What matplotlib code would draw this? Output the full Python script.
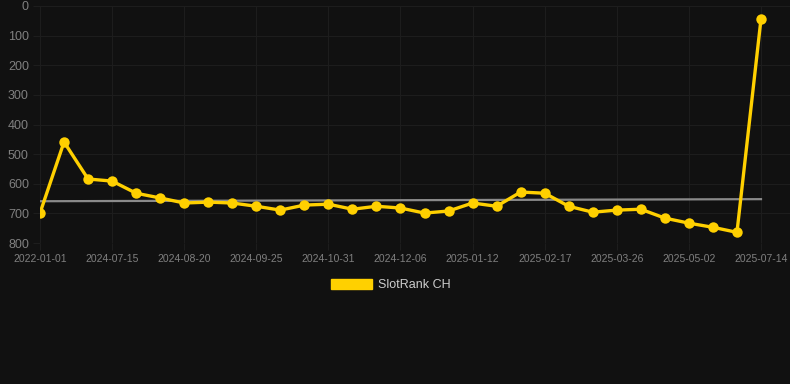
import matplotlib.pyplot as plt
import numpy as np
from matplotlib.patches import Patch

plt.rcParams['font.family'] = ['Liberation Sans', 'DejaVu Sans']

# data
dates = ["2022-01-01", "", "", "2024-07-15", "", "", "2024-08-20", "", "",
         "2024-09-25", "", "", "2024-10-31", "", "", "2024-12-06", "", "",
         "2025-01-12", "", "", "2025-02-17", "", "", "2025-03-26", "", "",
         "2025-05-02", "", "", "2025-07-14"]
rank = [699, 459, 584, 591, 632, 648, 665, 662, 665, 676, 689, 672, 669, 686,
        676, 682, 699, 692, 665, 676, 628, 632, 676, 696, 689, 686, 716, 733,
        747, 764, 44]
trend = [659, 652]

bg = "#111111"
gold = "#ffd000"
grid = "#1d1d1d"

fig = plt.figure(figsize=(7.9, 3.84), dpi=100, facecolor=bg)
ax = fig.add_axes([40 / 790, 141 / 384, 750 / 790, 237 / 384], facecolor=bg)

x = np.arange(len(rank))
ax.plot([x[0], x[-1]], trend, color="#8a8a8a", lw=1.6, zorder=2)
ax.plot(x, rank, color=gold, lw=2.4, marker="o", markersize=7.5,
        markeredgewidth=0, zorder=3)

ax.set_xlim(0, 30 + 29 / 24.03)
ax.set_ylim(800, 0)
ax.set_yticks(range(0, 801, 100))
ax.set_xticks(x[::3])
ax.set_xticklabels([dates[i] for i in range(0, len(dates), 3)])

ax.grid(True, color=grid, lw=0.8)
for s in ax.spines.values():
    s.set_visible(False)
ax.tick_params(axis="x", colors=grid, labelcolor="#808080", labelsize=7.5,
               length=5, pad=3)
ax.tick_params(axis="y", colors=grid, labelcolor="#808080", labelsize=9,
               length=5, pad=3)

leg = fig.legend(handles=[Patch(facecolor=gold, edgecolor=gold, label="SlotRank CH")],
                 loc="center", bbox_to_anchor=(391 / 790, 1 - 285 / 384),
                 frameon=False, fontsize=9, handlelength=3.3, handleheight=0.9,
                 handletextpad=0.5, labelcolor="#cccccc")

plt.savefig("out.png", dpi=100, facecolor=bg)
